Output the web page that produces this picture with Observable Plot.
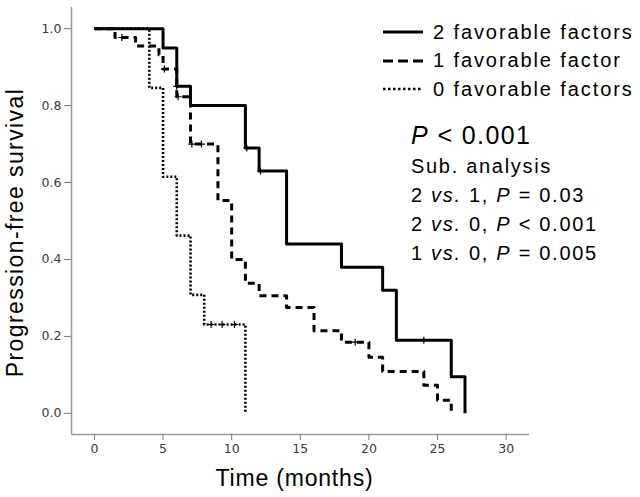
<!DOCTYPE html>
<html>
<head>
<meta charset="utf-8">
<script src="https://cdn.jsdelivr.net/npm/d3@7"></script>
<script src="https://cdn.jsdelivr.net/npm/@observablehq/plot@0.6"></script>
<style>
  body { margin: 0; background: #fff; }
  #wrap { position: relative; width: 640px; height: 497px; font-family: "Liberation Sans", Arial, sans-serif; }
  #legend { position: absolute; left: 383px; top: 18px; }
  .row { display: flex; align-items: center; height: 28.5px; font-size: 20px; color: #000; letter-spacing: 1.9px; white-space: nowrap; }
  .row svg { margin-right: 10px; }
  #stats { position: absolute; left: 411px; top: 118px; color: #000; white-space: nowrap; }
  #stats div { font-size: 20px; line-height: 29px; letter-spacing: 1.7px; }
  #stats .big { font-size: 25px; line-height: 34px; letter-spacing: 1.4px; }
</style>
</head>
<body>
<div id="wrap">
  <div id="chart"></div>
  <div id="legend"></div>
  <div id="stats"></div>
</div>
<script>
// Kaplan–Meier step data
const groups = ["2 favorable factors", "1 favorable factor", "0 favorable factors"];

const time2 = [0, 5, 6, 7, 11, 12, 14, 18, 21, 22, 26, 27];
const surv2 = [1, 0.95, 0.85, 0.80, 0.69, 0.63, 0.44, 0.38, 0.32, 0.19, 0.095, 0];
const cens2 = [6, 11.1, 12.1, 24];

const time1 = [0, 1.5, 3, 4.7, 5, 6, 7, 9, 10, 11, 12, 14, 16, 18, 20, 21, 24, 25, 26];
const surv1 = [1, 0.977, 0.955, 0.932, 0.895, 0.823, 0.70, 0.553, 0.40, 0.338, 0.306, 0.275, 0.215, 0.185, 0.146, 0.109, 0.073, 0.034, 0];
const cens1 = [2, 5.1, 6.1, 7.1, 7.8, 19];

const time0 = [0, 4, 5, 6, 7, 8, 11];
const surv0 = [1, 0.846, 0.615, 0.462, 0.308, 0.231, 0];
const cens0 = [8.5, 9.3, 10.2];

const xTicks = [0, 5, 10, 15, 20, 25, 30];
const yTicks = [0.0, 0.2, 0.4, 0.6, 0.8, 1.0];
const xLabel = "Time (months)";
const yLabel = "Progression-free survival";

const statLines = [
  "<i>P</i> &lt; 0.001",
  "Sub. analysis",
  "2 <i>vs.</i> 1, <i>P</i> = 0.03",
  "2 <i>vs.</i> 0, <i>P</i> &lt; 0.001",
  "1 <i>vs.</i> 0, <i>P</i> = 0.005"
];

const dashes = ["none", "7,5", "2,2"];
const widths = [3, 3, 2.6];

function toRows(g, t, s) { return t.map((d, i) => ({group: g, t: d, s: s[i]})); }
function at(t, s, x) { let v = s[0]; for (let i = 0; i < t.length; i++) if (t[i] <= x) v = s[i]; return v; }
function censRows(g, t, s, c) { return c.map(x => ({group: g, t: x, s: at(t, s, x)})); }

const series = [
  {rows: toRows(groups[0], time2, surv2), cens: censRows(groups[0], time2, surv2, cens2)},
  {rows: toRows(groups[1], time1, surv1), cens: censRows(groups[1], time1, surv1, cens1)},
  {rows: toRows(groups[2], time0, surv0), cens: censRows(groups[2], time0, surv0, cens0)}
];

const xDom = [-1.67, 31.7];
const yDom = [-0.055, 1.055];

const chart = Plot.plot({
  width: 640,
  height: 497,
  marginLeft: 71,
  marginRight: 111,
  marginTop: 7,
  marginBottom: 63,
  x: {domain: xDom},
  y: {domain: yDom},
  style: {background: "#fff"},
  marks: [
    Plot.ruleX([xDom[0]], {stroke: "#999", strokeWidth: 1.5}),
    Plot.ruleY([yDom[0]], {stroke: "#999", strokeWidth: 1.5}),
    Plot.axisY({ticks: yTicks, tickFormat: d3.format(".1f"), tickSize: 7, tickPadding: 3, stroke: "#777", fill: "#3a3a3a", fontSize: 12.5, fontFamily: "DejaVu Sans", label: null}),
    Plot.axisX({ticks: xTicks, tickFormat: d3.format("d"), tickSize: 6, tickPadding: 4, stroke: "#777", fill: "#3a3a3a", fontSize: 12.5, fontFamily: "DejaVu Sans", label: null}),
    Plot.text([xLabel], {frameAnchor: "bottom", lineAnchor: "middle", dy: 44, dx: -6, fontSize: 23, fontFamily: "Liberation Sans", fill: "#000", text: d => d}),
    Plot.text([yLabel], {frameAnchor: "left", textAnchor: "middle", lineAnchor: "middle", dx: -56, dy: 11.5, rotate: -90, fontSize: 23, fontFamily: "Liberation Sans", fill: "#000", text: d => d}),
    ...series.flatMap((s, i) => [
      Plot.line(s.rows, {x: "t", y: "s", curve: "step-after", stroke: "#000", strokeWidth: widths[i], strokeDasharray: dashes[i], strokeLinecap: "butt"}),
      Plot.dot(s.cens, {x: "t", y: "s", symbol: "plus", r: 2.4, stroke: "#000", strokeWidth: 1.2})
    ])
  ]
});
document.getElementById("chart").appendChild(chart);

// letter spacing for the axis titles, to match the reference's wide text
d3.select(chart).selectAll("text")
  .filter(function() { return this.textContent === xLabel; })
  .attr("letter-spacing", "0.8px");
d3.select(chart).selectAll("text")
  .filter(function() { return this.textContent === yLabel; })
  .attr("letter-spacing", "1.4px");

// legend
const leg = d3.select("#legend");
groups.forEach((g, i) => {
  const row = leg.append("div").attr("class", "row");
  const svg = row.append("svg").attr("width", 40).attr("height", 10);
  svg.append("line").attr("x1", 0).attr("x2", 40).attr("y1", 5).attr("y2", 5)
    .attr("stroke", "#000").attr("stroke-width", i === 2 ? 2.5 : 3)
    .attr("stroke-dasharray", i === 0 ? null : (i === 1 ? "10,5" : "2.5,2.5"));
  row.append("span").text(g);
});

// statistics annotation
const st = d3.select("#stats");
statLines.forEach((l, i) => st.append("div").attr("class", i === 0 ? "big" : null).html(l));
</script>
</body>
</html>
